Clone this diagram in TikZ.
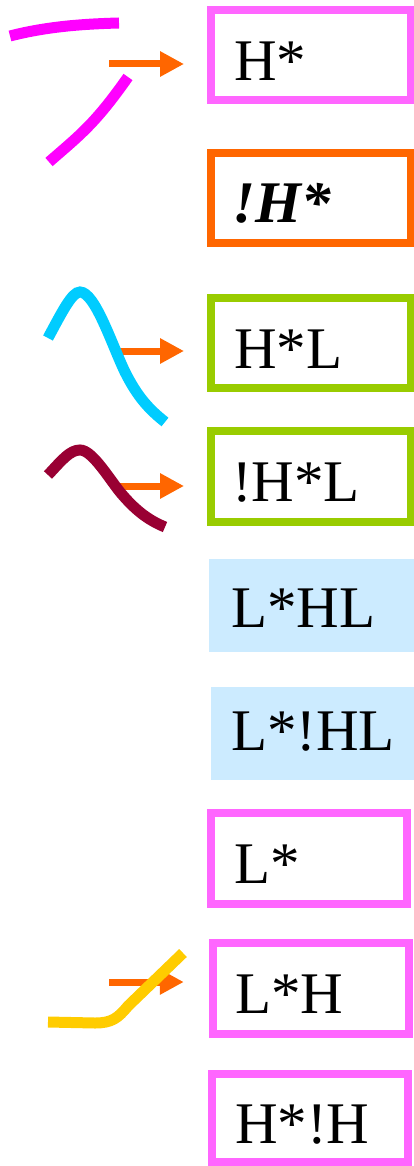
\documentclass[tikz,border=0pt]{standalone}
\usepackage{fontspec}
\setmainfont{Liberation Serif}
\usetikzlibrary{arrows.meta}
\definecolor{pinkline}{HTML}{FF66FF}
\definecolor{orangeline}{HTML}{FF6600}
\definecolor{greenline}{HTML}{99CC00}
\definecolor{paleblue}{HTML}{CCEBFF}
\definecolor{contmagenta}{HTML}{FF00FF}
\definecolor{contcyan}{HTML}{00CCFF}
\definecolor{contwine}{HTML}{990033}
\definecolor{contyellow}{HTML}{FFCC00}
\begin{document}
\begin{tikzpicture}[x=1pt,y=-1pt,
  framebox/.style={draw, line width=8pt, inner sep=0pt},
  shadebox/.style={fill=paleblue, inner sep=0pt},
  lbl/.style={anchor=base west, inner sep=0pt, font=\fontsize{59}{60}\selectfont},
  arr/.style={draw=orangeline, line width=7pt,
    -{Triangle[length=24pt,width=24pt,fill=orangeline]}},
  contour/.style={line width=11pt}]
\useasboundingbox (0,0) rectangle (414,1166);

% tone label boxes
\node[framebox, draw=pinkline, minimum width=200pt, minimum height=90pt] (hs) at (311,55) {};
\node[lbl] (hs-t) at (234,81) {H*};
\node[framebox, draw=orangeline, minimum width=200pt, minimum height=90pt] (dhs) at (311,198.5) {};
\node[lbl, font=\fontsize{59}{60}\selectfont\bfseries\itshape] (dhs-t) at (232,223) {!H*};
\node[framebox, draw=greenline, minimum width=200pt, minimum height=90pt] (hsl) at (311,343) {};
\node[lbl] (hsl-t) at (234,368) {H*L};
\node[framebox, draw=greenline, minimum width=200pt, minimum height=91pt] (dhsl) at (311,476) {};
\node[lbl] (dhsl-t) at (232,501) {!H*L};
\node[shadebox, minimum width=205pt, minimum height=93pt] (lshl) at (311.5,605.5) {};
\node[lbl] (lshl-t) at (231,627) {L*HL};
\node[shadebox, minimum width=203pt, minimum height=93pt] (lsdhl) at (312.5,733.5) {};
\node[lbl] (lsdhl-t) at (231,750) {L*!HL};
\node[framebox, draw=pinkline, minimum width=196.5pt, minimum height=91pt] (ls) at (309,858.7) {};
\node[lbl] (ls-t) at (234,883) {L*};
\node[framebox, draw=pinkline, minimum width=196.5pt, minimum height=91pt] (lsh) at (311,988.6) {};
\node[lbl] (lsh-t) at (235,1013) {L*H};
\node[framebox, draw=pinkline, minimum width=196pt, minimum height=88.5pt] (hsdh) at (310,1118) {};
\node[lbl] (hsdh-t) at (235,1143) {H*!H};

% arrows from the contours to their labels
\coordinate (a1) at (109,64);
\coordinate (a2) at (115,351);
\coordinate (a3) at (115,486);
\coordinate (a4) at (109,982);
\draw[arr, shorten >=23pt] (a1) -- (a1 -| hs.west);
\draw[arr, shorten >=23pt] (a2) -- (a2 -| hsl.west);
\draw[arr, shorten >=23pt] (a3) -- (a3 -| dhsl.west);
\draw[arr, shorten >=25pt] (a4) -- (a4 -| lsh.west);

% pitch contours
\draw[contour, contmagenta] (10,36) .. controls (45,27) and (80,24) .. (119,23);
\draw[contour, contmagenta] (49,162) .. controls (80,135) and (95,124) .. (128,77);
\draw[contour, contcyan] (48,338) .. controls (62,312) and (72,292) .. (80,292)
  .. controls (95,292) and (112,345) .. (125,372)
  .. controls (138,398) and (150,410) .. (165,422);
\draw[contour, contwine] (48,475) .. controls (62,460) and (70,450) .. (80,450)
  .. controls (92,450) and (108,477) .. (120,492)
  .. controls (135,510) and (148,520) .. (165,527);
\draw[contour, contyellow] (48,1022) -- (95,1023)
  .. controls (112,1023) and (118,1018) .. (128,1006) -- (183,953);
\end{tikzpicture}
\end{document}
